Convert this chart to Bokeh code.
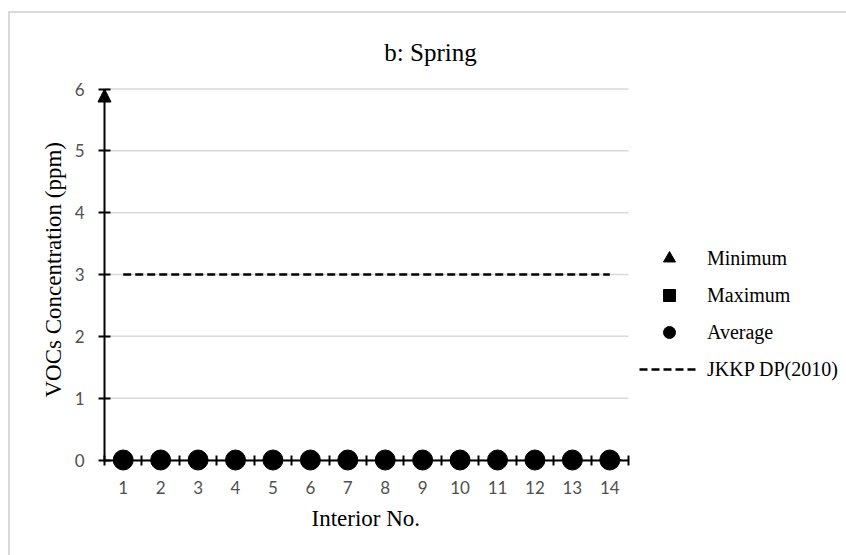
from bokeh.plotting import figure
from bokeh.models import (Range1d, FixedTicker, Legend, LegendItem, Label, Title,
                          Arrow, NormalHead, LinearAxis)
from bokeh.embed import file_html
from bokeh.resources import INLINE

# ---- data -------------------------------------------------------------
interiors = [1, 2, 3, 4, 5, 6, 7, 8, 9, 10, 11, 12, 13, 14]
minimum = [0, 0, 0, 0, 0, 0, 0, 0, 0, 0, 0, 0, 0, 0]
maximum = [0, 0, 0, 0, 0, 0, 0, 0, 0, 0, 0, 0, 0, 0]
average = [0, 0, 0, 0, 0, 0, 0, 0, 0, 0, 0, 0, 0, 0]
jkkp_limit = [3, 3, 3, 3, 3, 3, 3, 3, 3, 3, 3, 3, 3, 3]
y_ticks = [0, 1, 2, 3, 4, 5, 6]

title_text = "b: Spring"
x_title = "Interior No."
y_title = "VOCs Concentration (ppm)"
legend_labels = ["Minimum", "Maximum", "Average", "JKKP DP(2010)"]

# ---- layout (page pixels) ---------------------------------------------
PAGE_W, PAGE_H = 846, 555
OFF_X, OFF_Y = 10, 13                  # figure offset inside the grey chart border
CW, CH = PAGE_W - OFF_X, PAGE_H - OFF_Y

FL, FR, FT, FB = 92, PAGE_W, OFF_Y, 472    # frame edges on the page
AX_L, AX_R = 104, 628                       # x-axis extent (categories 0.5 .. 14.5)
PY_ZERO, PY_TOP = 459.5, 88.5               # rows of y = 0 and y = 6

UX = (AX_R - AX_L) / len(interiors)
UY = (PY_ZERO - PY_TOP) / (y_ticks[-1] - y_ticks[0])
X_LO, X_HI = interiors[0] - 0.5, interiors[-1] + 0.5
X0 = X_LO - (AX_L - FL) / UX
X1 = X0 + (FR - FL) / UX
Y0 = y_ticks[0] - (FB - PY_ZERO) / UY
Y1 = Y0 + (FB - FT) / UY


def dx(px):
    return X0 + (px - FL) / UX


def dy(py):
    return Y0 + (FB - py) / UY


SERIF = "Liberation Serif"
SANS = "Lato"
TICK_FONT_SIZE = "17px"
TICK_COLOR = "#505050"

p = figure(width=CW, height=CH, x_range=Range1d(X0, X1), y_range=Range1d(Y0, Y1),
           output_backend="svg", toolbar_location=None,
           min_border_left=FL - OFF_X, min_border_right=0,
           min_border_top=0, min_border_bottom=PAGE_H - FB)
p.title.visible = False
p.outline_line_color = None
p.background_fill_color = "white"
p.border_fill_color = "white"
p.styles = {"margin-left": f"{OFF_X}px", "margin-top": f"{OFF_Y}px",
            "box-shadow": "-1px -1px 0 1px #d9d9d9"}

# side-panel axes: tick labels only
xa = p.xaxis[0]
xa.bounds = (X_LO, X_HI)
xa.ticker = FixedTicker(ticks=interiors, minor_ticks=[])
xa.axis_line_color = None
xa.major_tick_line_color = None
xa.minor_tick_line_color = None
xa.major_tick_in = 0
xa.major_tick_out = 0
xa.minor_tick_out = 0
xa.major_label_standoff = 8
xa.major_label_text_font = SANS
xa.major_label_text_font_size = TICK_FONT_SIZE
xa.major_label_text_color = TICK_COLOR

ya = p.yaxis[0]
ya.bounds = (y_ticks[0], y_ticks[-1])
ya.ticker = FixedTicker(ticks=y_ticks, minor_ticks=[])
ya.axis_line_color = None
ya.major_tick_line_color = None
ya.minor_tick_line_color = None
ya.major_tick_in = 0
ya.major_tick_out = 0
ya.minor_tick_out = 0
ya.major_label_standoff = 8
ya.major_label_text_font = SANS
ya.major_label_text_font_size = TICK_FONT_SIZE
ya.major_label_text_color = TICK_COLOR

# axis lines with crossing tick marks, drawn at y = 0 and x = 0.5
x_line = LinearAxis(fixed_location=0, bounds=(X_LO, X_HI),
                    ticker=FixedTicker(ticks=[], minor_ticks=[i - 0.5 for i in interiors]
                                       + [interiors[-1] + 0.5]),
                    axis_line_color="black", axis_line_width=2,
                    major_tick_line_color=None, major_tick_in=0, major_tick_out=0,
                    minor_tick_line_color="black", minor_tick_line_width=2,
                    minor_tick_in=5, minor_tick_out=5, major_label_standoff=0)
p.add_layout(x_line, "below")

y_line = LinearAxis(fixed_location=X_LO, bounds=(y_ticks[0], y_ticks[-1]),
                    ticker=FixedTicker(ticks=[], minor_ticks=y_ticks),
                    axis_line_color="black", axis_line_width=2,
                    major_tick_line_color=None, major_tick_in=0, major_tick_out=0,
                    minor_tick_line_color="black", minor_tick_line_width=2,
                    minor_tick_in=6, minor_tick_out=6, major_label_standoff=0)
p.add_layout(y_line, "left")

# axis titles
p.add_layout(Title(text=x_title, align="left", offset=311 - FL, vertical_align="middle",
                   standoff=16, text_font=SERIF, text_font_size="23px",
                   text_font_style="normal", text_color="black"), "below")
p.add_layout(Title(text=y_title, align="left", offset=FB - 397, vertical_align="middle",
                   text_font=SERIF, text_font_size="23px", text_font_style="normal",
                   text_color="black"), "left")

# horizontal gridlines limited to the category band
p.xgrid.visible = False
p.ygrid.visible = False
p.segment(x0=X_LO, x1=X_HI, y0=y_ticks, y1=y_ticks,
          line_color="#d9d9d9", line_width=1.5)

# ---- series -----------------------------------------------------------
r_min = p.scatter(interiors, minimum, marker="triangle", size=14, color="black")
r_max = p.scatter(interiors, maximum, marker="square", size=12, color="black")
r_avg = p.scatter(interiors, average, marker="circle", size=20, color="black")
r_std = p.line(interiors, jkkp_limit, line_dash="8 4", line_width=2.5, color="black")

legend = Legend(
    items=[LegendItem(label=legend_labels[0], renderers=[r_min]),
           LegendItem(label=legend_labels[1], renderers=[r_max]),
           LegendItem(label=legend_labels[2], renderers=[r_avg]),
           LegendItem(label=legend_labels[3], renderers=[r_std])],
    location=(639 - FL, FB - 384),
    glyph_width=60, glyph_height=30, label_height=30, spacing=7,
    padding=0, margin=0, label_standoff=8,
    border_line_alpha=0, background_fill_alpha=0,
    label_text_font=SERIF, label_text_font_size="20px", label_text_color="black")
p.add_layout(legend)

# arrow heads on the axis ends
p.add_layout(Arrow(end=NormalHead(size=13, fill_color="black", line_color="black"),
                   x_start=X_LO, y_start=y_ticks[-1] - 0.5, x_end=X_LO, y_end=y_ticks[-1],
                   line_alpha=0))
p.add_layout(Arrow(end=NormalHead(size=12, fill_color="black", line_color="black"),
                   x_start=interiors[-1], y_start=0, x_end=dx(621), y_end=0,
                   line_alpha=0))

# ---- chart title ------------------------------------------------------
p.add_layout(Label(x=dx(430), y=dy(52), text=title_text, text_align="center",
                   text_baseline="alphabetic", text_font=SERIF,
                   text_font_size="25px", text_color="black"))

open("out.html", "w").write(file_html(p, INLINE))
